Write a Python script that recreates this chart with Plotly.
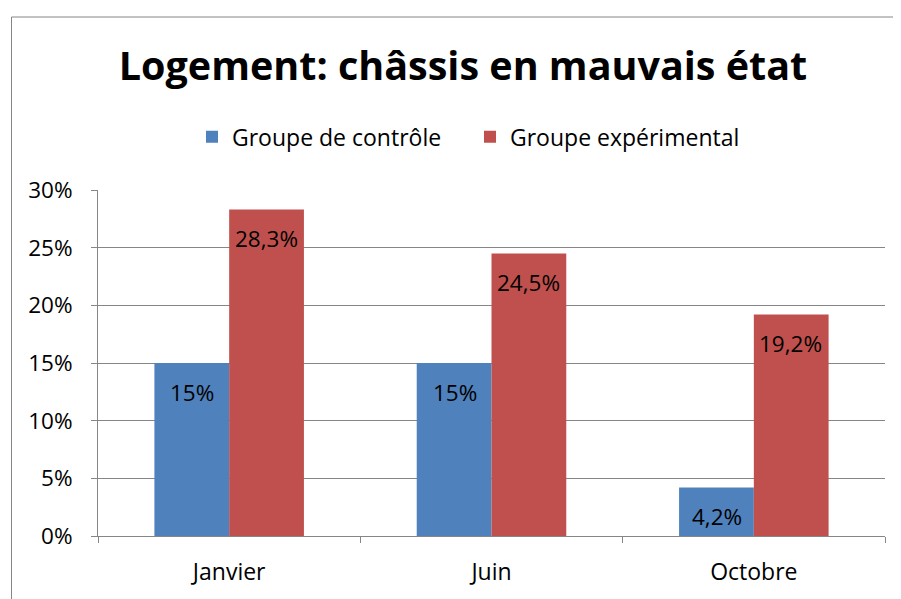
import plotly.graph_objects as go

categories = ["Janvier", "Juin", "Octobre"]
controle = [0.15, 0.15, 0.042]
experimental = [0.283, 0.245, 0.192]
controle_labels = ["15%", "15%", "4,2%"]
experimental_labels = ["28,3%", "24,5%", "19,2%"]
series_names = ["Groupe de contrôle", "Groupe expérimental"]
title_text = "Logement: châssis en mauvais état"

BLUE = "#4F81BD"
RED = "#C0504D"
GRID = "#868686"
FONT = "Open Sans"

# page has an 8px body margin: figure coordinates = page coordinates - 8
OFF = 8
FIG_W = 901 - OFF
FIG_H = 599 - OFF
L = 98; R = 885; T = 190; B = 541  # plot area in page pixels
W = R - L; H = B - T
def px(x): return (x - L) / W
def py(y): return (B - y) / H

fig = go.Figure()
fig.add_trace(go.Bar(x=categories, y=controle, name=series_names[0],
                     marker=dict(color=BLUE, line=dict(width=0)), hoverinfo="skip"))
fig.add_trace(go.Bar(x=categories, y=experimental, name=series_names[1],
                     marker=dict(color=RED, line=dict(width=0)), hoverinfo="skip"))

annots = []
for cat, v, t in zip(categories, controle, controle_labels):
    annots.append(dict(x=cat, y=v, text=t, showarrow=False, xshift=-37, yshift=-29,
                       font=dict(family=FONT, size=22.5, color="black"), yanchor="middle"))
for cat, v, t in zip(categories, experimental, experimental_labels):
    annots.append(dict(x=cat, y=v, text=t, showarrow=False, xshift=37, yshift=-29,
                       font=dict(family=FONT, size=22.5, color="black"), yanchor="middle"))

shapes = [
    dict(type="line", xref="paper", yref="paper", x0=px(11.5), x1=px(910), y0=py(14.5), y1=py(14.5),
         line=dict(color=GRID, width=1)),
    dict(type="line", xref="paper", yref="paper", x0=px(11.5), x1=px(11.5), y0=py(14.5), y1=py(610),
         line=dict(color=GRID, width=1)),
]

fig.update_layout(
    width=FIG_W, height=FIG_H,
    margin=dict(l=L - OFF, r=FIG_W - (R - OFF), t=T - OFF, b=FIG_H - (B - OFF)),
    paper_bgcolor="white", plot_bgcolor="white",
    font=dict(family=FONT, size=23, color="black"),
    title=dict(text="<b>" + title_text + "</b>", x=(463 - OFF) / FIG_W, xanchor="center",
               y=1 - (66 - OFF) / FIG_H, yanchor="middle",
               font=dict(family=FONT, size=39.5, color="black")),
    barmode="group", bargap=0.43, bargroupgap=0,
    legend=dict(orientation="h", x=px(192), xanchor="left", y=py(136), yanchor="middle",
                font=dict(family=FONT, size=23), itemwidth=30, entrywidth=233,
                traceorder="normal"),
    xaxis=dict(showgrid=False, showline=True, linecolor=GRID, linewidth=1,
               ticks="outside", tickson="boundaries", ticklen=6, tickcolor=GRID,
               ticklabelstandoff=15, tickfont=dict(family=FONT, size=23)),
    yaxis=dict(range=[0, 0.30], dtick=0.05, tickformat=".0%", showgrid=True,
               gridcolor=GRID, gridwidth=1, showline=True, linecolor=GRID, linewidth=1,
               ticks="outside", ticklen=6, tickcolor=GRID, ticklabelstandoff=14,
               tickfont=dict(family=FONT, size=22.5), zeroline=False),
    annotations=annots, shapes=shapes,
)

fig.write_html("out.html")
